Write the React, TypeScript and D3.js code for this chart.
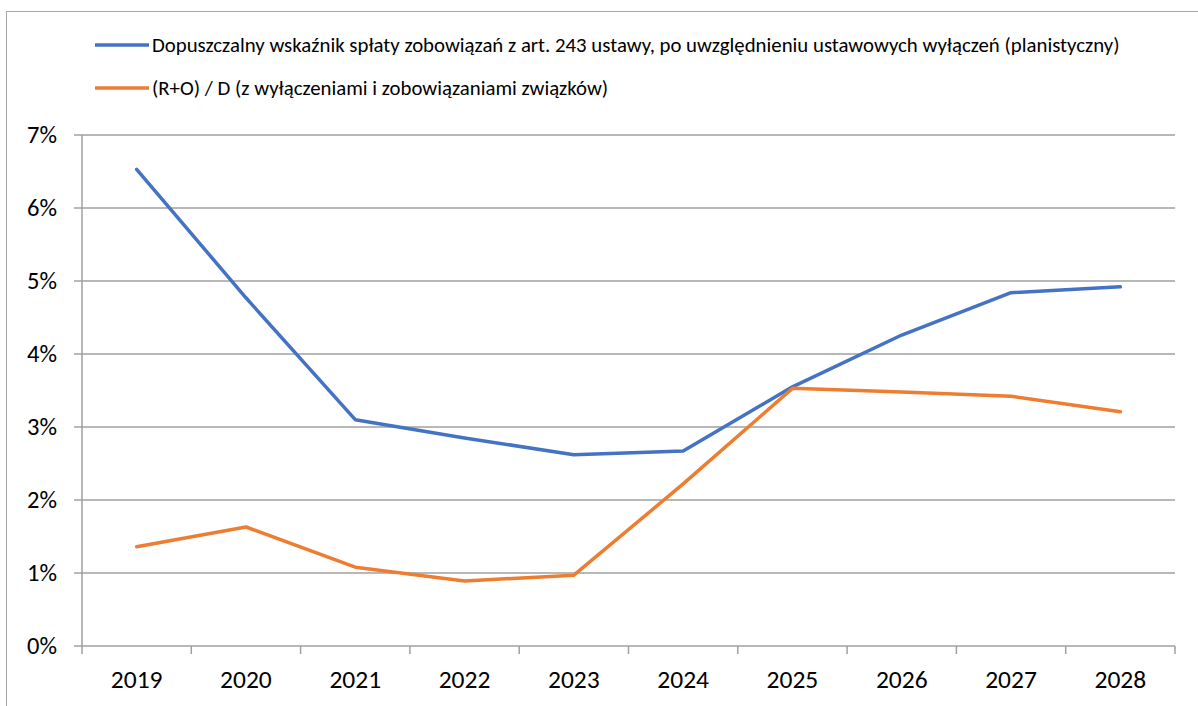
import React, { useRef, useEffect } from "react";
import * as d3 from "d3";

// Chart data
const years = ["2019", "2020", "2021", "2022", "2023", "2024", "2025", "2026", "2027", "2028"];
const limitValues = [6.53, 4.77, 3.1, 2.85, 2.62, 2.67, 3.55, 4.26, 4.84, 4.92];
const ratioValues = [1.36, 1.63, 1.08, 0.89, 0.97, 2.22, 3.53, 3.48, 3.42, 3.21];
const yTicks = [0, 1, 2, 3, 4, 5, 6, 7];
const seriesNames = [
  "Dopuszczalny wskaźnik spłaty zobowiązań z art. 243 ustawy, po uwzględnieniu ustawowych wyłączeń (planistyczny)",
  "(R+O) / D (z wyłączeniami i zobowiązaniami związków)",
];
const seriesColors = ["#4472C4", "#ED7D31"];

const width = 1198;
const height = 706;
const margin = { top: 135, right: 23, bottom: 60, left: 82 };
const font = "Carlito, 'Open Sans', 'Noto Sans', sans-serif";

function App() {
  const svgRef = useRef<SVGSVGElement>(null);

  useEffect(() => {
    const svg = d3.select(svgRef.current);
    svg.selectAll("*").remove();

    // outer frame
    svg
      .append("rect")
      .attr("x", 6.5)
      .attr("y", 11.5)
      .attr("width", width)
      .attr("height", height)
      .attr("fill", "white")
      .attr("stroke", "#a6a6a6")
      .attr("stroke-width", 1);

    const x = d3
      .scaleBand()
      .domain(years)
      .range([margin.left, width - margin.right]);

    const y = d3
      .scaleLinear()
      .domain([0, 7])
      .range([height - margin.bottom, margin.top]);

    // gridlines
    svg
      .append("g")
      .selectAll("line")
      .data(yTicks)
      .enter()
      .append("line")
      .attr("x1", margin.left - 8)
      .attr("x2", width - margin.right)
      .attr("y1", (d) => y(d))
      .attr("y2", (d) => y(d))
      .attr("stroke", "#a0a0a0")
      .attr("stroke-width", 1.5);

    // y axis line
    svg
      .append("line")
      .attr("x1", margin.left)
      .attr("x2", margin.left)
      .attr("y1", y(7))
      .attr("y2", y(0))
      .attr("stroke", "#a0a0a0")
      .attr("stroke-width", 1.5);

    // x tick marks at band edges
    const edges = years.map((yr) => x(yr) as number).concat([width - margin.right]);
    svg
      .append("g")
      .selectAll("line")
      .data(edges)
      .enter()
      .append("line")
      .attr("x1", (d) => d)
      .attr("x2", (d) => d)
      .attr("y1", y(0))
      .attr("y2", y(0) + 8)
      .attr("stroke", "#a0a0a0")
      .attr("stroke-width", 1.5);

    // y labels
    svg
      .append("g")
      .selectAll("text")
      .data(yTicks)
      .enter()
      .append("text")
      .attr("x", 57)
      .attr("y", (d) => y(d))
      .attr("dy", "0.33em")
      .attr("text-anchor", "end")
      .attr("font-family", font)
      .attr("font-size", 24.5)
      .attr("fill", "#000")
      .text((d) => `${d}%`);

    // x labels
    svg
      .append("g")
      .selectAll("text")
      .data(years)
      .enter()
      .append("text")
      .attr("x", (d) => (x(d) as number) + x.bandwidth() / 2)
      .attr("y", 688)
      .attr("text-anchor", "middle")
      .attr("font-family", font)
      .attr("font-size", 25.5)
      .attr("fill", "#000")
      .text((d) => d);

    // lines
    const line = d3
      .line<number>()
      .x((_, i) => (x(years[i]) as number) + x.bandwidth() / 2)
      .y((d) => y(d));

    [limitValues, ratioValues].forEach((vals, i) => {
      svg
        .append("path")
        .datum(vals)
        .attr("d", line)
        .attr("fill", "none")
        .attr("stroke", seriesColors[i])
        .attr("stroke-width", 3.5)
        .attr("stroke-linejoin", "round")
        .attr("stroke-linecap", "round");
    });

    // legend
    seriesNames.forEach((name, i) => {
      const ly = 45 + i * 43;
      svg
        .append("line")
        .attr("x1", 95)
        .attr("x2", 149)
        .attr("y1", ly)
        .attr("y2", ly)
        .attr("stroke", seriesColors[i])
        .attr("stroke-width", 3.5);
      svg
        .append("text")
        .attr("x", 152)
        .attr("y", ly)
        .attr("dy", "0.35em")
        .attr("font-family", font)
        .attr("font-size", 20.8)
        .attr("fill", "#000")
        .text(name);
    });
  }, []);

  return (
    <svg
      ref={svgRef}
      width={width}
      height={height}
      style={{ position: "absolute", left: 0, top: 0, background: "white" }}
    />
  );
}

export default App;
